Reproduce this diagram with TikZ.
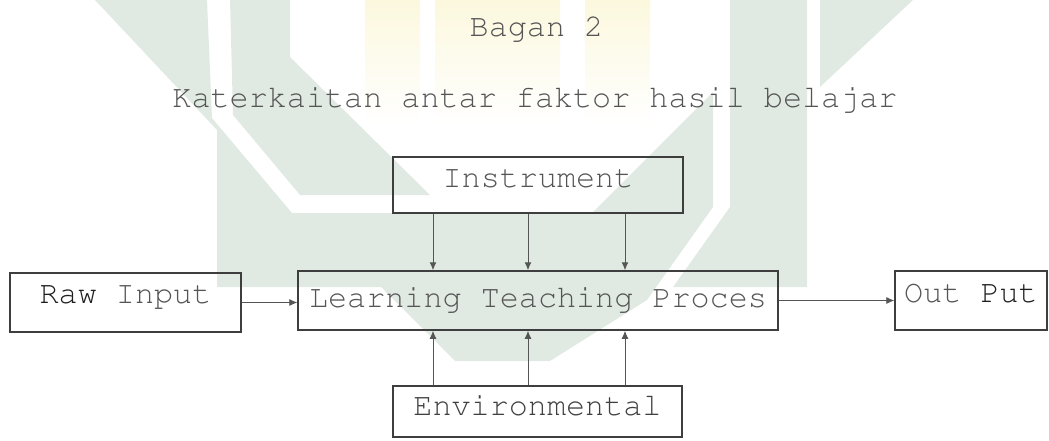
\documentclass[tikz,border=0pt]{standalone}
\usepackage[T1]{fontenc}
\usepackage{courier}
\usetikzlibrary{arrows.meta}
\definecolor{ink}{HTML}{555555}
\definecolor{dark}{HTML}{1E1E1E}
\definecolor{frame}{HTML}{3E3E3E}
\definecolor{wmgreen}{HTML}{E0EAE3}
\definecolor{wmyellow}{HTML}{FCF8DE}

\begin{document}
\begin{tikzpicture}[x=1pt,y=1pt,
  txt/.style={font=\ttfamily\fontsize{31.8}{36}\selectfont, text=ink},
  box/.style={txt, draw=frame, line width=1.5pt, inner sep=0pt, text height=18pt},
  arr/.style={draw=ink, line width=1pt, -{Latex[length=8pt,width=7pt]}},
  flow/.style={draw=ink, line width=0.8pt, -{Latex[length=8pt,width=7pt]}}
]
\useasboundingbox (0,0) rectangle (1049,440);

% pale background emblem (coordinates measured from the top edge)
\begin{scope}[shift={(0,440)}, yscale=-1]
  \shade[top color=wmyellow, bottom color=white] (365,0) rectangle (420,125);
  \shade[top color=wmyellow, bottom color=white] (435,0) rectangle (560,125);
  \shade[top color=wmyellow, bottom color=white] (585,0) rectangle (650,125);
  % left arm and lower body
  \fill[wmgreen] (95,0) -- (207,0) -- (212,118) -- (292,213) -- (592,213)
    -- (713,92) -- (713,207) -- (647,300) -- (550,361) -- (455,361)
    -- (381,287) -- (217,287) -- (217,130) -- cycle;
  % inner left band
  \fill[wmgreen] (230,0) -- (290,0) -- (290,57) -- (430,195) -- (300,195)
    -- (233,115) -- cycle;
  % right band
  \fill[wmgreen] (730,0) -- (807,0) -- (807,287) -- (673,287) -- (730,207) -- cycle;
  % upper right wedge
  \fill[wmgreen] (820,0) -- (913,0) -- (820,87) -- cycle;
\end{scope}

% headings
\node[txt, anchor=base] (title) at (536.5,403) {Bagan 2};
\node[txt, anchor=base] (subtitle) at (535,332) {Katerkaitan antar faktor hasil belajar};

% boxes
\node[box, minimum width=290pt, minimum height=56pt, text depth=14pt] (instr) at (538,255) {Instrument};
\node[box, minimum width=480pt, minimum height=59pt, text depth=5pt] (learn) at (538,139.5) {Learning Teaching Proces};
\node[box, minimum width=231pt, minimum height=59pt, text depth=17pt] (raw) at (125.5,137.5) {{\color{dark}Raw} Input};
\node[box, minimum width=152pt, minimum height=59pt, text depth=15pt] (out) at (971,139.5) {Out {\color{dark}Put}};
\node[box, minimum width=289pt, minimum height=51pt, text depth=11pt, text=dark!85] (env) at (537.5,28.5) {Environmental};

% vertical influences
\coordinate (p1) at (433,0);
\coordinate (p2) at (528,0);
\coordinate (p3) at (625,0);
\foreach \c in {p1,p2,p3} {
  \draw[arr] (\c |- instr.south) -- (\c |- learn.north);
  \draw[arr] (\c |- env.north) -- (\c |- learn.south);
}

% main flow
\draw[flow] (raw.east) -- (raw.east -| learn.west);
\draw[flow] (learn.east) -- (learn.east -| out.west);
\end{tikzpicture}
\end{document}
